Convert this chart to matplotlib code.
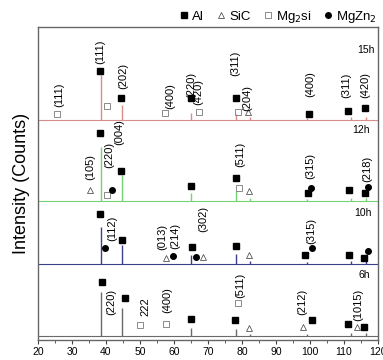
import matplotlib
matplotlib.use("Agg")
import matplotlib.pyplot as plt
from matplotlib.lines import Line2D

plt.rcParams['font.family'] = ['Liberation Sans', 'DejaVu Sans']

# ---------------- data ----------------
samples = ["6h", "10h", "12h", "15h"]
offsets = [4, 76, 139, 220]
line_colors = ["#6a6a6a", "#3a3f8f", "#74d374", "#d98c8c"]

# peak positions (2theta) and heights above each baseline
peak_pos = [38.5, 44.7, 65.1, 78.2, 82.4, 99.1, 112.0, 116.6]
peak_h_6h  = [44, 28, 8, 7, 2, 2, 3, 3]
peak_h_10h = [37, 19, 9, 10, 3, 2, 3, 3]
peak_h_12h = [54, 26, 8, 10, 3, 2, 3, 3]
peak_h_15h = [45, 15, 7, 6, 3, 2, 3, 3]
peak_heights = [peak_h_6h, peak_h_10h, peak_h_12h, peak_h_15h]

# phase markers: (2theta, intensity)
al_x  = [38.8, 45.6, 64.9, 78.0, 100.5, 111.3, 115.9,
         38.3, 44.8, 65.2, 78.1, 98.5, 111.6, 116.0,
         38.2, 44.3, 65.0, 78.1, 99.4, 111.6, 116.2,
         38.3, 44.3, 65.1, 78.1, 99.8, 111.3, 116.2]
al_y  = [58, 42, 21, 20, 20, 16, 13,
         126, 100, 93, 94, 85, 85, 82,
         207, 169, 154, 162, 147, 150, 147,
         269, 242, 242, 242, 226, 229, 232]
sic_x = [82.1, 97.9, 113.7,
         57.6, 68.4, 82.1,
         35.3, 82.1,
         81.8]
sic_y = [12, 13, 13,
         82, 83, 85,
         150, 149,
         228]
mg2si_x = [49.9, 57.6, 78.7,
           40.2, 79.2,
           25.5, 40.2, 57.4, 67.3, 78.9]
mg2si_y = [15, 16, 37,
           145, 152,
           226, 234, 227, 228, 228]
mgzn2_x = [39.7, 59.8, 66.4, 100.5, 117.1,
           41.7, 100.4, 117.2]
mgzn2_y = [92, 84, 83, 92, 89,
           150, 152, 153]

# hkl labels: text, 2theta, intensity
hkl_text = ["(220)", "222", "(400)", "(511)", "(212)", "(1015)",
            "(112)", "(013)", "(214)", "(302)", "(315)",
            "(105)", "(220)", "(004)", "(511)", "(315)", "(218)",
            "(111)", "(111)", "(202)", "(400)", "(220)", "(420)", "(311)",
            "(204)", "(400)", "(311)", "(420)"]
hkl_x = [41.5, 51.5, 57.9, 79.4, 97.6, 114.2,
         41.7, 56.4, 60.3, 68.6, 100.5,
         35.3, 40.9, 43.8, 79.4, 100.0, 116.7,
         26.3, 38.4, 45.1, 58.8, 65.2, 67.1, 77.9,
         81.4, 100.0, 110.8, 116.2]
hkl_y = [38, 33, 40, 55, 38, 35,
         112, 103, 104, 121, 109,
         173, 185, 208, 186, 174, 171,
         245, 288, 264, 244, 255, 248, 277,
         242, 256, 255, 255]

sample_label_x = [117.6, 118.2, 117.6, 119.1]
sample_label_y = [65, 127, 210, 290]

# ---------------- figure ----------------
fig = plt.figure(figsize=(3.83, 3.60), dpi=100)
ax = fig.add_axes([38/383, 20/360, 340/383, 313/360])

for name, off, col, hs, lx, ly in zip(samples, offsets, line_colors,
                                      peak_heights, sample_label_x, sample_label_y):
    ax.hlines(off, 20, 120, colors=col, lw=0.8)
    ax.vlines(peak_pos, off, [off + h for h in hs], colors=col, lw=1.0)
    ax.text(lx, ly, name, ha='right', va='center', fontsize=7.5)

ax.plot(al_x, al_y, ls='none', marker='s', ms=4.5, mfc='black', mec='black')
ax.plot(sic_x, sic_y, ls='none', marker='^', ms=5, mfc='none', mec='#555555', mew=0.6)
ax.plot(mg2si_x, mg2si_y, ls='none', marker='s', ms=4, mfc='none', mec='#777777', mew=0.6)
ax.plot(mgzn2_x, mgzn2_y, ls='none', marker='o', ms=4, mfc='black', mec='black')

for t, x, y in zip(hkl_text, hkl_x, hkl_y):
    ax.text(x, y, t, rotation=90, ha='center', va='center', fontsize=8)

ax.set_xlim(20, 120)
ax.set_ylim(0, 313)
ax.set_xticks(range(20, 121, 10))
ax.set_xticks(range(25, 120, 10), minor=True)
ax.set_yticks([])
ax.tick_params(axis='x', which='major', direction='out', length=3, labelsize=7.5, pad=2, color='#444444')
ax.tick_params(axis='x', which='minor', direction='out', length=2, color='#444444')
for s in ax.spines.values():
    s.set_color('#666666')
    s.set_linewidth(1.0)

ax.set_ylabel("Intensity (Counts)", fontsize=13, labelpad=6)

handles = [
    Line2D([], [], ls='none', marker='s', ms=4.5, mfc='black', mec='black'),
    Line2D([], [], ls='none', marker='^', ms=5, mfc='none', mec='#555555', mew=0.6),
    Line2D([], [], ls='none', marker='s', ms=4, mfc='none', mec='#777777', mew=0.6),
    Line2D([], [], ls='none', marker='o', ms=4, mfc='black', mec='black'),
]
fig.legend(handles, ["Al", "SiC", "Mg$_2$si", "MgZn$_2$"], loc='center right',
           bbox_to_anchor=(377/383, 1 - 17/360), ncol=4, frameon=False,
           fontsize=9.5, handlelength=0.6, handletextpad=0.3, columnspacing=1.0,
           borderpad=0, borderaxespad=0)

fig.savefig("out.png", dpi=100)
